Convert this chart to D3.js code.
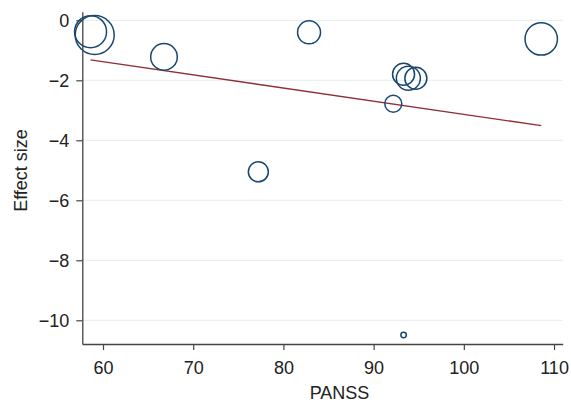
<!DOCTYPE html>
<html>
<head>
<meta charset="utf-8">
<script src="https://cdn.jsdelivr.net/npm/d3@7"></script>
<style>
  html, body { margin: 0; padding: 0; background: #fff; }
  svg { display: block; }
  text { font-family: "Liberation Sans", Arial, Helvetica, sans-serif; fill: #222; }
</style>
</head>
<body>
<svg id="chart" width="571" height="404"></svg>
<script>
// ---- data ----
const panss      = [58.62, 59.08, 66.76, 77.22, 82.84, 108.58, 93.32, 93.85, 94.68, 92.18, 93.32];
const effectSize = [-0.38, -0.49, -1.22, -5.05, -0.40, -0.62, -1.80, -1.93, -1.93, -2.78, -10.49];
const weights    = [256, 380, 177, 100, 132, 262, 121, 144, 121, 72, 7.3];
const fitX = [58.62, 108.58];
const fitY = [-1.32, -3.51];
const xTicks = [60, 70, 80, 90, 100, 110];
const yTicks = [0, -2, -4, -6, -8, -10];

const W = 571, H = 404;
const m = { left: 82.3, right: 8.3, top: 11.7, bottom: 60 };
const svg = d3.select("#chart");

const x = d3.scaleLinear().domain([57.705, 110.96]).range([m.left, W - m.right]);
const y = d3.scaleLinear().domain([0.287, -10.79]).range([m.top, H - m.bottom]);
const r = d3.scaleSqrt().domain([0, 400]).range([0, 20]);

// gridlines
svg.append("g").selectAll("line").data(yTicks).join("line")
  .attr("x1", m.left).attr("x2", W - m.right)
  .attr("y1", d => y(d)).attr("y2", d => y(d))
  .attr("stroke", "#e4eded").attr("stroke-width", 1);

// axes
const fmt = d3.format("d");
const xAxis = svg.append("g").attr("transform", `translate(0,${H - m.bottom})`)
  .call(d3.axisBottom(x).tickValues(xTicks).tickFormat(fmt).tickSize(6).tickPadding(11).tickSizeOuter(0));
const yAxis = svg.append("g").attr("transform", `translate(${m.left},0)`)
  .call(d3.axisLeft(y).tickValues(yTicks).tickFormat(fmt).tickSize(6).tickPadding(7).tickSizeOuter(0));
[xAxis, yAxis].forEach(g => {
  g.select(".domain").attr("stroke", "#444").attr("stroke-width", 1.3);
  g.selectAll(".tick line").attr("stroke", "#444").attr("stroke-width", 1.2);
  g.selectAll(".tick text").attr("font-size", 18).attr("fill", "#222")
    .style("font-family", '"Liberation Sans", Arial, sans-serif');
});

// fitted line
const pts = fitX.map((v, i) => [v, fitY[i]]);
svg.append("path")
  .attr("d", d3.line().x(d => x(d[0])).y(d => y(d[1]))(pts))
  .attr("fill", "none").attr("stroke", "#8e2f35").attr("stroke-width", 1.3);

// bubbles
const data = panss.map((v, i) => ({ x: v, y: effectSize[i], w: weights[i] }));
svg.append("g").selectAll("circle").data(data).join("circle")
  .attr("cx", d => x(d.x)).attr("cy", d => y(d.y)).attr("r", d => r(d.w))
  .attr("fill", "none").attr("stroke", "#1a476f").attr("stroke-width", 1.5);

// titles
svg.append("text").attr("x", 339.5).attr("y", 399)
  .attr("text-anchor", "middle").attr("font-size", 18).text("PANSS");
svg.append("text").attr("transform", "translate(27,170.5) rotate(-90)")
  .attr("text-anchor", "middle").attr("font-size", 18).text("Effect size");
</script>
</body>
</html>
